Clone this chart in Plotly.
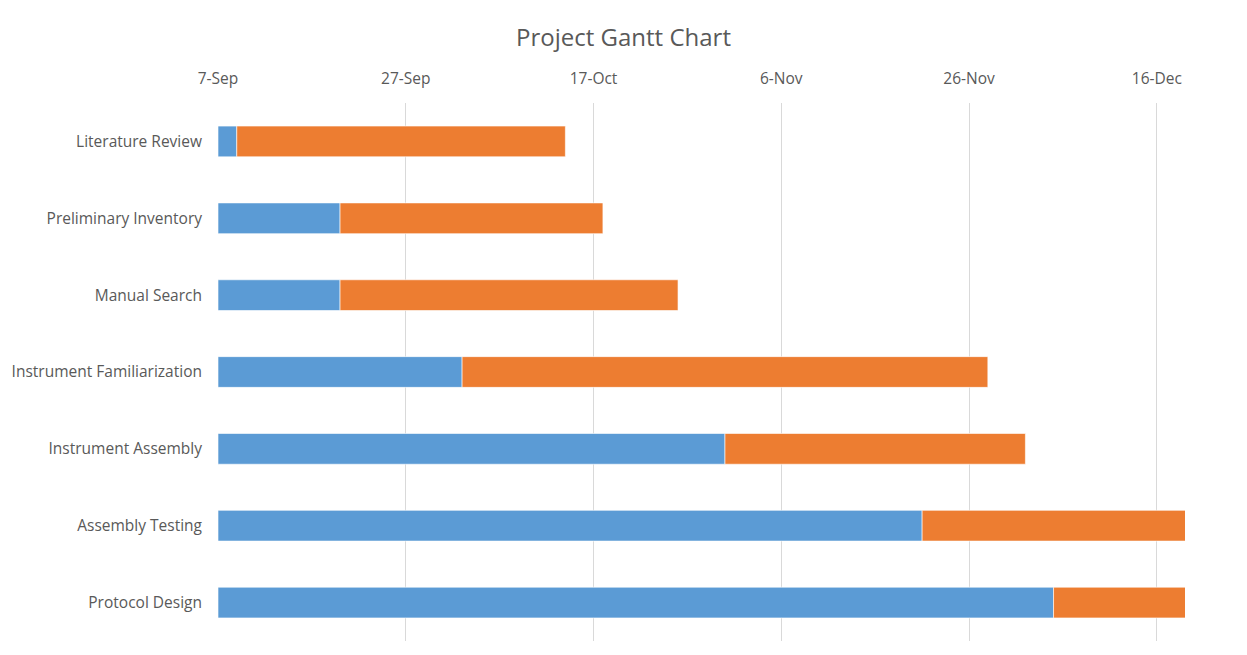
import plotly.graph_objects as go
import pandas as pd

tasks = ["Literature Review", "Preliminary Inventory", "Manual Search",
         "Instrument Familiarization", "Instrument Assembly",
         "Assembly Testing", "Protocol Design"]
start_dates = ["2016-09-09", "2016-09-20", "2016-09-20", "2016-10-03",
               "2016-10-31", "2016-11-21", "2016-12-05"]
durations = [35, 28, 36, 56, 32, 30, 20]  # days

axis_min = "2016-09-07"
axis_max = "2016-12-19"

DAY_MS = 86400000
starts = pd.to_datetime(start_dates)
t0 = pd.Timestamp(axis_min)
offset_ms = [(s - t0).days * DAY_MS for s in starts]
dur_ms = [d * DAY_MS for d in durations]

fig = go.Figure()
fig.add_trace(go.Bar(
    y=tasks, x=offset_ms, base=[axis_min] * len(tasks), orientation="h",
    marker=dict(color="#5B9BD5", line=dict(color="rgba(255,255,255,0.6)", width=1)),
    name="Start Date", showlegend=False, hoverinfo="skip"))
fig.add_trace(go.Bar(
    y=tasks, x=dur_ms, base=start_dates, orientation="h",
    marker=dict(color="#ED7D31", line=dict(color="rgba(255,255,255,0.6)", width=1)),
    name="Duration", showlegend=False, hoverinfo="skip"))

font_family = "'Open Sans', sans-serif"
fig.update_layout(
    width=1247, height=655,
    margin=dict(l=218, r=62, t=103, b=14),
    paper_bgcolor="white", plot_bgcolor="white",
    barmode="overlay", bargap=0.6,
    title=dict(text="Project Gantt Chart", x=0.5, xref="container", xanchor="center",
               y=1 - 38 / 655, yref="container", yanchor="middle",
               font=dict(family=font_family, size=24, color="#595959")),
    font=dict(family=font_family, color="#595959", size=15.5),
    xaxis=dict(type="date", side="top", range=[axis_min, axis_max],
               tick0=axis_min, dtick=20 * DAY_MS, tickformat="%-d-%b",
               showgrid=True, gridcolor="#d9d9d9", gridwidth=1,
               showline=False, zeroline=False, ticks="",
               ticklabelstandoff=15, tickfont=dict(size=15.5, color="#595959")),
    yaxis=dict(autorange="reversed", showgrid=False, showline=False, ticks="",
               ticklabelstandoff=15, tickfont=dict(size=15.5, color="#595959")),
)

fig.write_html("out.html")
